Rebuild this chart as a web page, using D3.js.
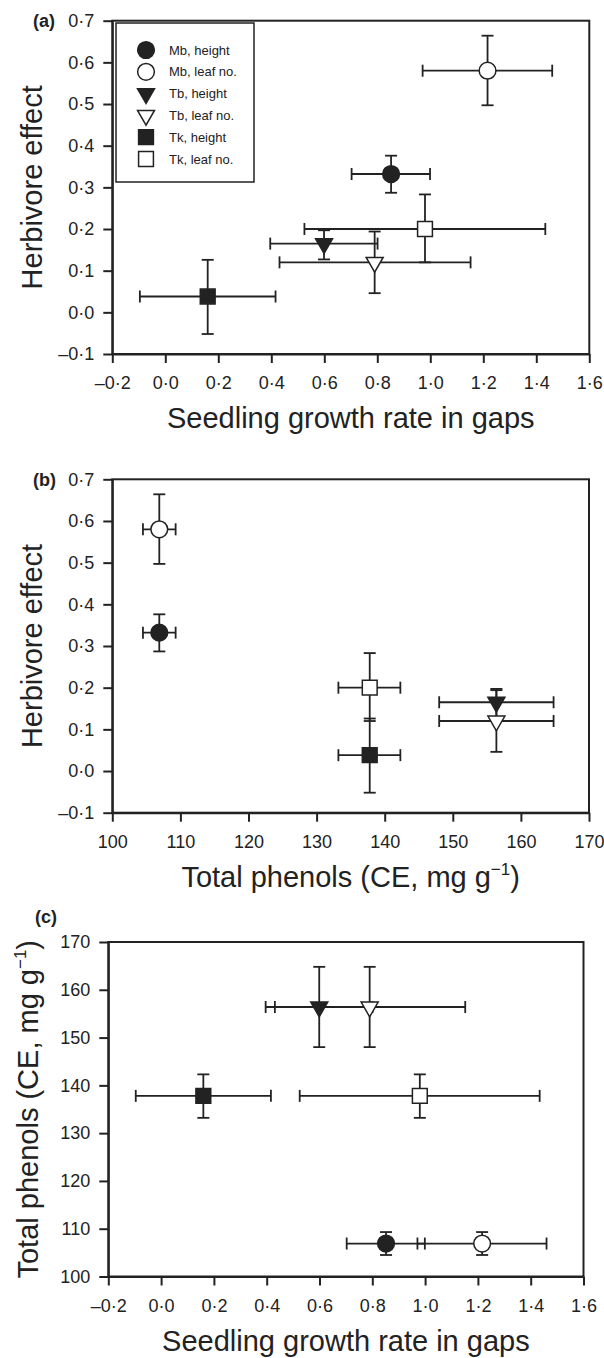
<!DOCTYPE html>
<html>
<head>
<meta charset="utf-8">
<script src="https://cdn.jsdelivr.net/npm/d3@7"></script>
<style>
  body { margin: 0; background: #fff; }
  svg { display: block; font-family: "Liberation Sans", Arial, sans-serif; }
</style>
</head>
<body>
<svg id="chart" width="604" height="1358"></svg>
<script>
// series, in legend order
const labels = ['Mb, height', 'Mb, leaf no.', 'Tb, height', 'Tb, leaf no.', 'Tk, height', 'Tk, leaf no.']
const shapes = ['circle', 'circle', 'triangle', 'triangle', 'square', 'square']
const filled = [true, false, true, false, true, false]

// seedling growth rate in gaps (mean, lower, upper)
const growth   = [0.852, 1.216, 0.599, 0.790, 0.160, 0.980]
const growthLo = [0.703, 0.971, 0.396, 0.431, -0.096, 0.525]
const growthHi = [0.999, 1.460, 0.801, 1.152, 0.416, 1.434]

// herbivore effect (mean, lower, upper)
const effect   = [0.332, 0.580, 0.165, 0.120, 0.038, 0.200]
const effectLo = [0.287, 0.497, 0.127, 0.046, -0.052, 0.120]
const effectHi = [0.376, 0.664, 0.197, 0.194, 0.126, 0.283]

// total phenols, CE mg g-1 (per species, repeated for both measures)
const phenols   = [106.9, 106.9, 156.4, 156.4, 137.8, 137.8]
const phenolsLo = [104.5, 104.5, 148.0, 148.0, 133.2, 133.2]
const phenolsHi = [109.3, 109.3, 164.8, 164.8, 142.3, 142.3]

const growthTicks = [-0.2, 0, 0.2, 0.4, 0.6, 0.8, 1.0, 1.2, 1.4, 1.6]
const effectTicks = [-0.1, 0, 0.1, 0.2, 0.3, 0.4, 0.5, 0.6, 0.7]
const phenolTicks = [100, 110, 120, 130, 140, 150, 160, 170]

const ink = '#222'
const svg = d3.select('#chart')
svg.append('rect').attr('width', 604).attr('height', 1358).attr('fill', '#fff')

const dotFmt = d => d3.format('.1f')(d).replace('.', '\u00b7').replace('\u2212', '\u2013').replace('-', '\u2013')
const intFmt = d => d3.format('d')(d)

function symbolPath(shape) {
    if (shape === 'circle') return d3.symbol(d3.symbolCircle, 220)()
    if (shape === 'square') return d3.symbol(d3.symbolSquare, 220)()
    return d3.symbol(d3.symbolTriangle, 125)()
}

function drawMarker(g, i, x, y) {
    g.append('path')
        .attr('d', symbolPath(shapes[i]))
        .attr('transform', `translate(${x},${y})` + (shapes[i] === 'triangle' ? ' rotate(180)' : ''))
        .attr('fill', filled[i] ? ink : '#fff')
        .attr('stroke', ink)
        .attr('stroke-width', 1.5)
}

function panel(cfg) {
    const x = d3.scaleLinear().domain(cfg.xDomain).range([cfg.left, cfg.right])
    const y = d3.scaleLinear().domain(cfg.yDomain).range([cfg.bottom, cfg.top])
    const g = svg.append('g')

    // frame
    g.append('rect')
        .attr('x', cfg.left).attr('y', cfg.top)
        .attr('width', cfg.right - cfg.left).attr('height', cfg.bottom - cfg.top)
        .attr('fill', 'none').attr('stroke', ink).attr('stroke-width', 2)

    const xAxis = g.append('g')
        .attr('transform', `translate(0,${cfg.bottom})`)
        .call(d3.axisBottom(x).tickValues(cfg.xTicks).tickFormat(cfg.xFmt).tickSize(9).tickSizeOuter(0).tickPadding(8))
    const yAxis = g.append('g')
        .attr('transform', `translate(${cfg.left},0)`)
        .call(d3.axisLeft(y).tickValues(cfg.yTicks).tickFormat(cfg.yFmt).tickSize(9).tickSizeOuter(0).tickPadding(9))
    for (const a of [xAxis, yAxis]) {
        a.select('.domain').attr('stroke', ink).attr('stroke-width', 2)
        a.selectAll('.tick line').attr('stroke', ink).attr('stroke-width', 2)
        a.selectAll('.tick text').attr('fill', ink).attr('font-size', 18)
            .attr('font-family', '"Liberation Sans", Arial, sans-serif')
    }
    xAxis.selectAll('.tick text').attr('dy', null).attr('y', 35).attr('dominant-baseline', null)

    // points with error bars
    const cap = 6
    labels.forEach((_, i) => {
        const px = x(cfg.xv[i]), py = y(cfg.yv[i])
        const s = g.append('g').attr('stroke', ink).attr('stroke-width', 1.8).attr('fill', 'none')
        const x0 = x(cfg.xlo[i]), x1 = x(cfg.xhi[i])
        const y0 = y(cfg.ylo[i]), y1 = y(cfg.yhi[i])
        s.append('line').attr('x1', x0).attr('x2', x1).attr('y1', py).attr('y2', py)
        s.append('line').attr('x1', x0).attr('x2', x0).attr('y1', py - cap).attr('y2', py + cap)
        s.append('line').attr('x1', x1).attr('x2', x1).attr('y1', py - cap).attr('y2', py + cap)
        s.append('line').attr('x1', px).attr('x2', px).attr('y1', y0).attr('y2', y1)
        s.append('line').attr('x1', px - cap).attr('x2', px + cap).attr('y1', y0).attr('y2', y0)
        s.append('line').attr('x1', px - cap).attr('x2', px + cap).attr('y1', y1).attr('y2', y1)
        drawMarker(g, i, px, py)
    })

    // panel letter
    g.append('text').attr('x', cfg.letterX).attr('y', cfg.letterY)
        .attr('font-size', 18).attr('font-weight', 'bold').attr('fill', ink).text(cfg.letter)

    // x title
    const xt = g.append('text')
        .attr('x', (cfg.left + cfg.right) / 2).attr('y', cfg.bottom + 74)
        .attr('text-anchor', 'middle').attr('font-size', 29).attr('fill', ink)
    cfg.xTitle(xt)

    // y title
    const yt = g.append('text')
        .attr('transform', `translate(${cfg.yTitleX},${(cfg.top + cfg.bottom) / 2}) rotate(-90)`)
        .attr('text-anchor', 'middle').attr('font-size', 29).attr('fill', ink)
    cfg.yTitle(yt)

    return g
}

function phenolTitle(t) {
    t.append('tspan').text('Total phenols (CE, mg g')
    t.append('tspan').attr('font-size', 17).attr('dy', -12).text('\u22121')
    t.append('tspan').attr('dy', 12).text(')')
}

const a = panel({
    letter: '(a)', letterX: 33, letterY: 27,
    left: 112.3, right: 589.3, top: 20.7, bottom: 354,
    xDomain: [-0.2, 1.6], yDomain: [-0.1, 0.7], xTicks: growthTicks, yTicks: effectTicks,
    xFmt: dotFmt, yFmt: dotFmt,
    xv: growth, xlo: growthLo, xhi: growthHi, yv: effect, ylo: effectLo, yhi: effectHi,
    yTitleX: 42,
    xTitle: t => t.text('Seedling growth rate in gaps'),
    yTitle: t => t.text('Herbivore effect')
})

panel({
    letter: '(b)', letterX: 33, letterY: 486,
    left: 112.3, right: 589, top: 479.3, bottom: 812.7,
    xDomain: [100, 170], yDomain: [-0.1, 0.7], xTicks: phenolTicks, yTicks: effectTicks,
    xFmt: intFmt, yFmt: dotFmt,
    xv: phenols, xlo: phenolsLo, xhi: phenolsHi, yv: effect, ylo: effectLo, yhi: effectHi,
    yTitleX: 42,
    xTitle: phenolTitle,
    yTitle: t => t.text('Herbivore effect')
})

panel({
    letter: '(c)', letterX: 35, letterY: 923,
    left: 108.3, right: 583.5, top: 942, bottom: 1276.5,
    xDomain: [-0.2, 1.6], yDomain: [100, 170], xTicks: growthTicks, yTicks: phenolTicks,
    xFmt: dotFmt, yFmt: intFmt,
    xv: growth, xlo: growthLo, xhi: growthHi, yv: phenols, ylo: phenolsLo, yhi: phenolsHi,
    yTitleX: 38,
    xTitle: t => t.text('Seedling growth rate in gaps'),
    yTitle: phenolTitle
})

// legend in panel (a)
const leg = a.append('g')
leg.append('rect').attr('x', 116).attr('y', 23).attr('width', 138).attr('height', 159)
    .attr('fill', '#fff').attr('stroke', ink).attr('stroke-width', 1.5)
labels.forEach((lab, i) => {
    const cy = 50 + i * 21.8
    drawMarker(leg, i, 146, cy)
    leg.append('text').attr('x', 169).attr('y', cy + 4.5)
        .attr('font-size', 13).attr('fill', ink).text(lab)
})
</script>
</body>
</html>
